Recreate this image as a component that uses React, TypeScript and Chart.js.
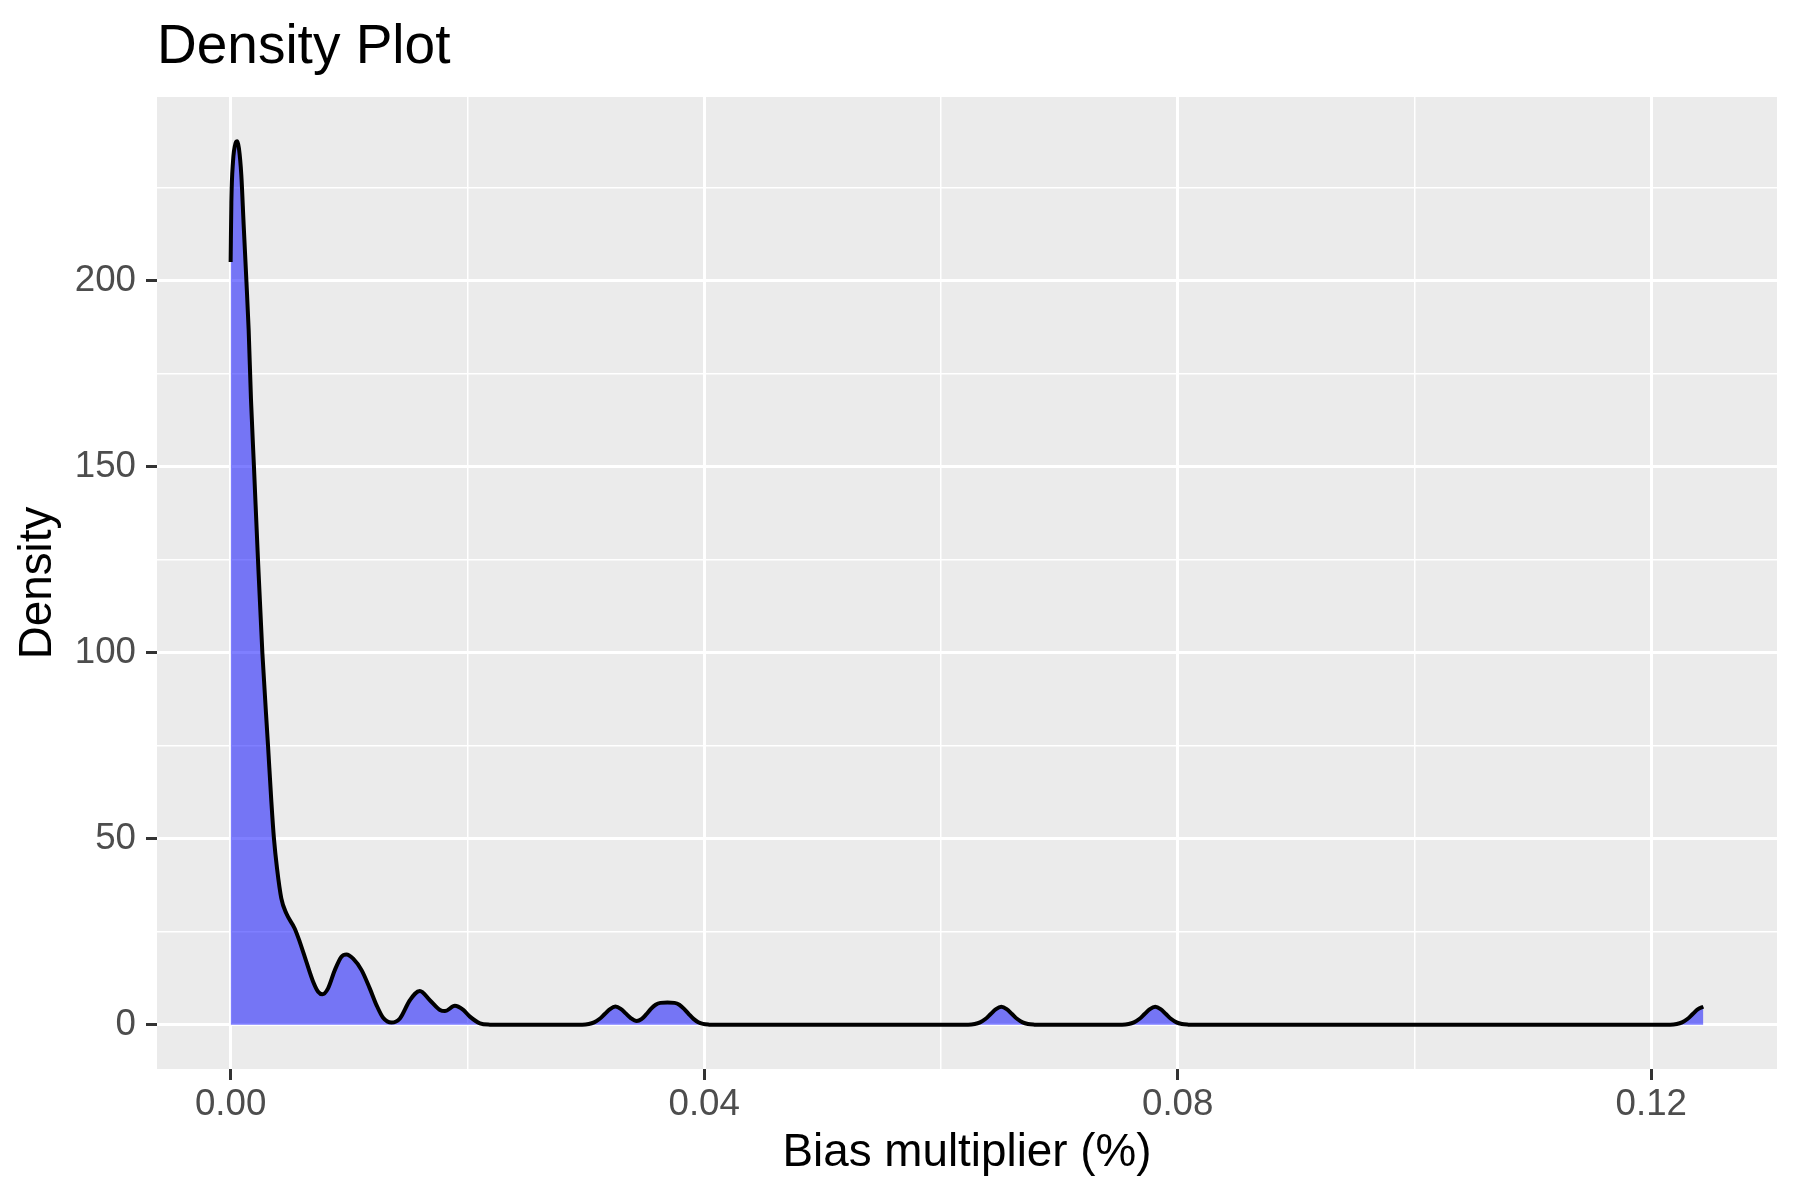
import React, { useEffect, useRef } from 'react';
import { Chart, registerables } from 'chart.js';

Chart.register(...registerables);

// ---- Data ----
const biasX = [
  0, 0.00006, 0.0002, 0.00042, 0.00056, 0.0007, 0.0009, 0.0011, 0.00133, 0.00152,
  0.00172, 0.00197, 0.00231, 0.00268, 0.00316, 0.00344, 0.00366, 0.00392, 0.00428, 0.00471,
  0.00541, 0.00584, 0.0064, 0.00697, 0.00739, 0.00775, 0.00823, 0.0088, 0.00936, 0.00978,
  0.01035, 0.01106, 0.01175, 0.01232, 0.01288, 0.01359, 0.0143, 0.01514, 0.01598, 0.01683,
  0.01768, 0.0181, 0.01894, 0.01965, 0.02021, 0.02106, 0.0219, 0.023,
  0.0297, 0.03025, 0.0307, 0.03115, 0.0316, 0.03205, 0.0325, 0.03295, 0.0334, 0.0338,
  0.0343, 0.0347, 0.0351, 0.0355, 0.0359, 0.0363, 0.0369, 0.0375, 0.0379, 0.0383,
  0.0387, 0.0391, 0.0395, 0.0399, 0.0404, 0.041,
  0.0623, 0.06285, 0.0633, 0.06375, 0.0642, 0.06465, 0.0651, 0.06555, 0.066, 0.06645,
  0.0669, 0.06735, 0.0679, 0.0684,
  0.0753, 0.07585, 0.0763, 0.07675, 0.0772, 0.07765, 0.0781, 0.07855, 0.079, 0.07945,
  0.0799, 0.08035, 0.0809, 0.0814,
  0.1216, 0.12215, 0.1226, 0.12305, 0.1235, 0.12395, 0.1244,
];

const densityY = [
  205, 221, 232, 237, 237.5, 235.6, 228.5, 215, 200, 187,
  168, 150, 125, 100, 75, 60, 50, 42, 34, 29.9,
  25.9, 22.3, 16.9, 11.6, 8.9, 8.2, 9.8, 14.7, 18.3, 18.9,
  17.8, 14.7, 9.8, 5.3, 1.9, 0.6, 1.7, 6.6, 9.1, 6.6,
  4.0, 3.7, 5.1, 4.0, 2.2, 0.4, 0.05, 0,
  0.04, 0.21, 0.65, 1.56, 2.91, 4.24, 4.9, 4.3, 3.0, 1.8,
  1.0, 1.5, 2.8, 4.3, 5.4, 5.9, 6.0, 5.9, 5.4, 4.3,
  2.9, 1.6, 0.7, 0.25, 0.05, 0,
  0.04, 0.21, 0.65, 1.56, 2.91, 4.24, 4.85, 4.24, 2.91, 1.56,
  0.65, 0.21, 0.04, 0,
  0.04, 0.21, 0.65, 1.56, 2.91, 4.24, 4.85, 4.24, 2.91, 1.56,
  0.65, 0.21, 0.04, 0,
  0.04, 0.21, 0.65, 1.56, 2.91, 4.24, 4.85,
];

const xTickValues = [0, 0.02, 0.04, 0.06, 0.08, 0.1, 0.12];
const xTickLabels = ['0.00', '', '0.04', '', '0.08', '', '0.12'];
const yTickValues = [0, 25, 50, 75, 100, 125, 150, 175, 200, 225];
const yTickLabels = ['0', '', '50', '', '100', '', '150', '', '200', ''];

const chartTitle = 'Density Plot';
const xAxisTitle = 'Bias multiplier (%)';
const yAxisTitle = 'Density';

const FONT = '"Liberation Sans", Arial, Helvetica, sans-serif';

export default function App() {
  const canvasRef = useRef<HTMLCanvasElement | null>(null);

  useEffect(() => {
    const canvas = canvasRef.current;
    if (!canvas) return;

    const xMin = Math.min(...biasX);
    const xMax = Math.max(...biasX);
    const xPad = (xMax - xMin) * 0.05;
    const yMin = Math.min(...densityY);
    const yMax = Math.max(...densityY);
    const yPad = (yMax - yMin) * 0.05;

    const points = biasX.map((x, i) => ({ x, y: densityY[i] }));

    const backgroundPlugin = {
      id: 'ggBackground',
      beforeDraw(chart: any) {
        const { ctx, chartArea } = chart;
        ctx.save();
        ctx.fillStyle = '#FFFFFF';
        ctx.fillRect(0, 0, chart.width, chart.height);
        ctx.fillStyle = '#EBEBEB';
        ctx.fillRect(chartArea.left, chartArea.top, chartArea.right - chartArea.left, chartArea.bottom - chartArea.top);
        ctx.restore();
      },
      afterDraw(chart: any) {
        const { ctx, chartArea } = chart;
        ctx.save();
        ctx.fillStyle = '#000000';
        ctx.font = `55px ${FONT}`;
        ctx.textAlign = 'left';
        ctx.textBaseline = 'alphabetic';
        ctx.fillText(chartTitle, chartArea.left, 63);
        ctx.restore();
      },
    };

    const chart = new Chart(canvas, {
      type: 'line',
      data: {
        datasets: [
          {
            data: points,
            borderColor: '#000000',
            borderWidth: 4,
            backgroundColor: 'rgba(0,0,255,0.5)',
            fill: 'origin',
            pointRadius: 0,
            pointHoverRadius: 0,
            cubicInterpolationMode: 'monotone',
          },
        ],
      },
      options: {
        animation: false,
        responsive: false,
        devicePixelRatio: 1,
        layout: { padding: { top: 97, right: 23, bottom: 0, left: 0 } },
        plugins: {
          legend: { display: false },
          tooltip: { enabled: false },
          title: { display: false },
        },
        scales: {
          x: {
            type: 'linear',
            min: xMin - xPad,
            max: xMax + xPad,
            afterBuildTicks: (s: any) => {
              s.ticks = xTickValues.map((v) => ({ value: v }));
            },
            afterFit: (s: any) => {
              s.height = 131;
            },
            ticks: {
              autoSkip: false,
              maxRotation: 0,
              minRotation: 0,
              padding: 3,
              color: '#4D4D4D',
              font: { family: FONT, size: 36.7 },
              callback: (_v: any, i: number) => xTickLabels[i],
            },
            grid: {
              color: '#FFFFFF',
              lineWidth: (ctx: any) => (xTickLabels[ctx.index] ? 3 : 1.5),
              drawTicks: true,
              tickLength: 11,
              tickWidth: 3,
              tickColor: (ctx: any) => (xTickLabels[ctx.index] ? '#333333' : 'rgba(0,0,0,0)'),
            },
            border: { display: false },
            title: {
              display: true,
              text: xAxisTitle,
              color: '#000000',
              font: { family: FONT, size: 45.8 },
              padding: { top: 0, bottom: 19.5 },
            },
          },
          y: {
            type: 'linear',
            min: yMin - yPad,
            max: yMax + yPad,
            afterBuildTicks: (s: any) => {
              s.ticks = yTickValues.map((v) => ({ value: v }));
            },
            afterFit: (s: any) => {
              s.width = 157;
            },
            ticks: {
              autoSkip: false,
              padding: 10,
              color: '#4D4D4D',
              font: { family: FONT, size: 36.7 },
              callback: (_v: any, i: number) => yTickLabels[i],
            },
            grid: {
              color: '#FFFFFF',
              lineWidth: (ctx: any) => (yTickLabels[ctx.index] ? 3 : 1.5),
              drawTicks: true,
              tickLength: 11,
              tickWidth: 3,
              tickColor: (ctx: any) => (yTickLabels[ctx.index] ? '#333333' : 'rgba(0,0,0,0)'),
            },
            border: { display: false },
            title: {
              display: true,
              text: yAxisTitle,
              color: '#000000',
              font: { family: FONT, size: 45.8 },
              padding: { top: 11, bottom: 0 },
            },
          },
        },
      },
      plugins: [backgroundPlugin],
    } as any);

    return () => {
      chart.destroy();
    };
  }, []);

  return (
    <div style={{ position: 'absolute', left: 0, top: 0, width: 1800, height: 1200, background: '#FFFFFF' }}>
      <canvas ref={canvasRef} width={1800} height={1200} style={{ display: 'block', width: 1800, height: 1200 }} />
    </div>
  );
}
